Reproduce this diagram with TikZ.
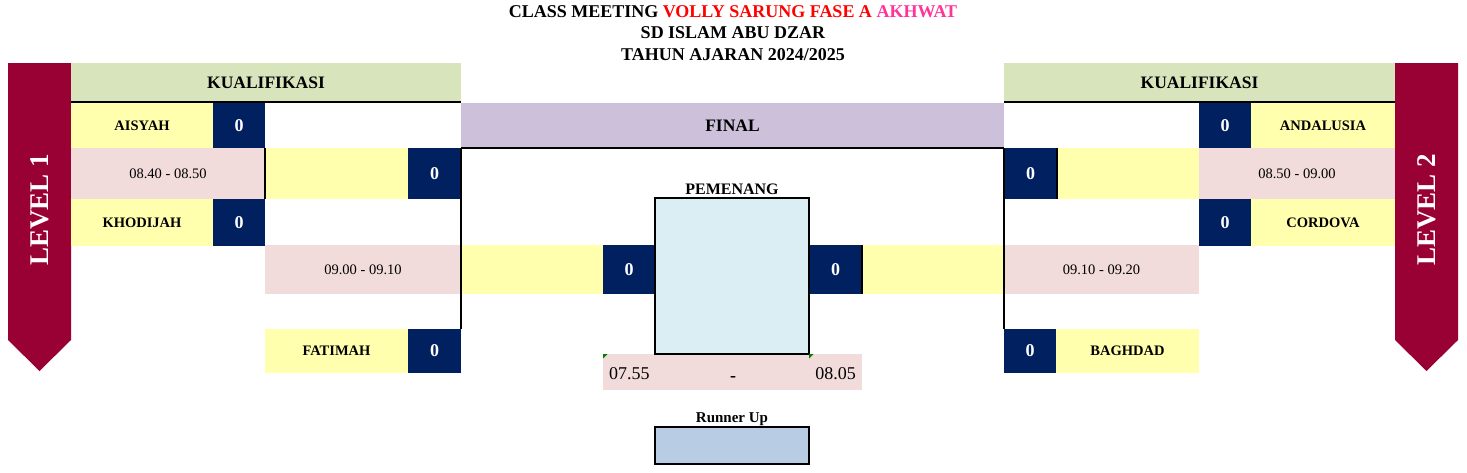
\documentclass[tikz,border=0pt]{standalone}
\usepackage{fontspec}
\setmainfont{Liberation Serif}
\definecolor{cmaroon}{HTML}{990033}
\definecolor{chead}{HTML}{D8E4BC}
\definecolor{cfinal}{HTML}{CCC0DA}
\definecolor{cyel}{HTML}{FFFFAD}
\definecolor{cnavy}{HTML}{002060}
\definecolor{cpink}{HTML}{F2DCDB}
\definecolor{cwin}{HTML}{DAEEF3}
\definecolor{crun}{HTML}{B8CCE4}
\definecolor{cred}{HTML}{FF0000}
\definecolor{chot}{HTML}{FF3399}
\definecolor{cgreen}{HTML}{008000}
\newcommand\namefont{\bfseries\fontsize{14.5}{16}\selectfont}
\newcommand\scorefont{\bfseries\fontsize{18}{20}\selectfont}
\newcommand\timefont{\fontsize{14.5}{17}\selectfont}
\newcommand\headfont{\bfseries\fontsize{17.5}{20}\selectfont}
\newcommand\titlefont{\bfseries\fontsize{18}{21.5}\selectfont}
\newcommand\cell[7]{\node[cellbase,#6,minimum width={(#4-#2)*1pt},minimum height={(#5-#3)*1pt}] (#1) at ({(#2+#4)/2},{(#3+#5)/2}) {#7};}
\begin{document}
\begin{tikzpicture}[x=1pt,y=-1pt,
  cellbase/.style={inner sep=0pt,outer sep=0pt,draw=none},
  yel/.style={fill=cyel,font=\namefont},
  navy/.style={fill=cnavy,text=white,font=\scorefont},
  pink/.style={fill=cpink,font=\timefont},
  head/.style={fill=chead,font=\headfont},
  thick line/.style={line width=2pt},
  thin line/.style={line width=1.1pt},
  box/.style={draw=black,line width=2pt},
  ribbon/.style={fill=cmaroon},
  ribtext/.style={text=white,font=\bfseries\fontsize{27}{30}\selectfont,rotate=90},
  lbl/.style={font=\bfseries\fontsize{16}{18}\selectfont},
  tri/.style={fill=cgreen}]
\useasboundingbox (0,0) rectangle (1467,472);
% title
\node[font=\titlefont,align=center,inner sep=0pt] (title) at (733,33) {CLASS MEETING \textcolor{cred}{VOLLY SARUNG FASE A} \textcolor{chot}{AKHWAT}\\ SD ISLAM ABU DZAR\\ TAHUN AJARAN 2024/2025};
% ribbons
\fill[ribbon] (8,63) -- (71,63) -- (71,340) -- (39.5,371) -- (8,340) -- cycle;
\node[ribtext] (lev1) at (39.5,210) {LEVEL 1};
\fill[ribbon] (1395,63) -- (1458,63) -- (1458,340) -- (1426.5,371) -- (1395,340) -- cycle;
\node[ribtext] (lev2) at (1426.5,210) {LEVEL 2};
% headers
\cell{hL}{71}{63}{461}{102}{head}{KUALIFIKASI}
\cell{hR}{1004}{63}{1395}{102}{head}{KUALIFIKASI}
\cell{final}{461}{103}{1004}{148}{fill=cfinal,font=\headfont}{FINAL}
% left side
\cell{aisyah}{71}{103}{213}{148}{yel}{AISYAH}
\cell{sA}{213}{103}{265}{148}{navy}{0}
\cell{t1}{71}{148}{265}{199}{pink}{08.40 - 08.50}
\cell{w1}{265}{148}{408}{199}{yel}{}
\cell{sw1}{408}{148}{461}{199}{navy}{0}
\cell{khod}{71}{199}{213}{246}{yel}{KHODIJAH}
\cell{sK}{213}{199}{265}{246}{navy}{0}
\cell{t2}{265}{245}{461}{294}{pink}{09.00 - 09.10}
\cell{fat}{265}{329}{408}{373}{yel}{FATIMAH}
\cell{sF}{408}{329}{461}{373}{navy}{0}
% middle
\cell{fl}{461}{245}{603}{294}{yel}{}
\cell{sfl}{603}{245}{655}{294}{navy}{0}
\cell{sfr}{809}{245}{862}{294}{navy}{0}
\cell{fr}{862}{245}{1004}{294}{yel}{}
\cell{time}{603}{354}{862}{390}{pink}{}
\node[cellbase,box,fill=cwin,minimum width=154pt,minimum height=156pt] (winner) at (732,276) {};
\node[lbl,anchor=south,inner sep=0pt] (pem) at (732,195) {PEMENANG};
\node[font=\fontsize{18}{20}\selectfont,anchor=base west,inner sep=0pt] (tA) at (609,379.5) {07.55};
\node[font=\bfseries\fontsize{18}{20}\selectfont,anchor=base,inner sep=0pt] (tD) at (733,381) {-};
\node[font=\fontsize{18}{20}\selectfont,anchor=base east,inner sep=0pt] (tB) at (856,379.5) {08.05};
\fill[tri] (time.north west) -- ++(4.5,0) -- ++(-4.5,4.5) -- cycle;
\fill[tri] (winner.south east) ++(0,0) -- ++(4.5,0) -- ++(-4.5,4.5) -- cycle;
\node[font=\bfseries\fontsize{15}{17}\selectfont,anchor=base,inner sep=0pt] (ru) at (732,422) {Runner Up};
\node[cellbase,box,fill=crun,minimum width=154pt,minimum height=37pt] (runner) at (732,445.5) {};
% right side
\cell{sAnd}{1199}{103}{1251}{148}{navy}{0}
\cell{and}{1251}{103}{1395}{148}{yel}{ANDALUSIA}
\cell{sw2}{1004}{148}{1057}{199}{navy}{0}
\cell{w2}{1057}{148}{1199}{199}{yel}{}
\cell{t3}{1199}{148}{1395}{199}{pink}{08.50 - 09.00}
\cell{sCor}{1199}{199}{1251}{246}{navy}{0}
\cell{cor}{1251}{199}{1395}{246}{yel}{CORDOVA}
\cell{t4}{1004}{245}{1199}{294}{pink}{09.10 - 09.20}
\cell{sBag}{1004}{329}{1056}{373}{navy}{0}
\cell{bag}{1056}{329}{1199}{373}{yel}{BAGHDAD}
% bracket lines
\draw[thick line] (hL.south west) -- (hL.south east);
\draw[thick line] (hR.south west) -- (hR.south east);
\draw[thick line] (final.south west) -- (final.south east);
\draw[thin line] (w1.north west) -- (w1.south west);
\draw[thin line] (sw1.north east) -- (sF.north east);
\draw[thin line] (sw2.north west) -- (sBag.north west);
\draw[thin line] (sw2.north east) -- (sw2.south east);
\draw[thin line] (sfr.north east) -- (sfr.south east);
\end{tikzpicture}
\end{document}
